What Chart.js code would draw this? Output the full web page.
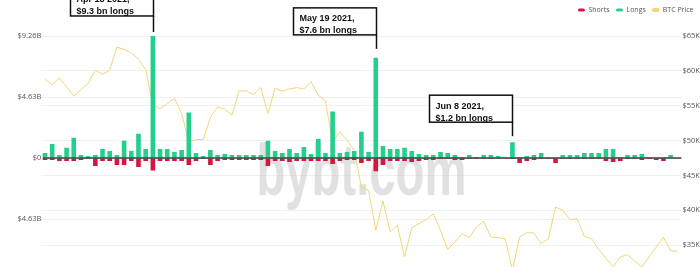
<!DOCTYPE html>
<html>
<head>
<meta charset="utf-8">
<script src="https://cdn.jsdelivr.net/npm/chart.js@4/dist/chart.umd.min.js"></script>
<style>
    html, body { margin: 0; padding: 0; background: #fff; width: 700px; height: 267px; overflow: hidden; }
    #wrap { position: relative; width: 700px; height: 300px; }
</style>
</head>
<body>
<div id="wrap"><canvas id="liqChart"></canvas></div>
<script>
// Tage (Apr 3 - Jun 30 2021)
const days = [
    'Apr 3', 'Apr 4', 'Apr 5', 'Apr 6', 'Apr 7', 'Apr 8', 'Apr 9', 'Apr 10', 'Apr 11', 'Apr 12',
    'Apr 13', 'Apr 14', 'Apr 15', 'Apr 16', 'Apr 17', 'Apr 18', 'Apr 19', 'Apr 20', 'Apr 21', 'Apr 22',
    'Apr 23', 'Apr 24', 'Apr 25', 'Apr 26', 'Apr 27', 'Apr 28', 'Apr 29', 'Apr 30', 'May 1', 'May 2',
    'May 3', 'May 4', 'May 5', 'May 6', 'May 7', 'May 8', 'May 9', 'May 10', 'May 11', 'May 12',
    'May 13', 'May 14', 'May 15', 'May 16', 'May 17', 'May 18', 'May 19', 'May 20', 'May 21', 'May 22',
    'May 23', 'May 24', 'May 25', 'May 26', 'May 27', 'May 28', 'May 29', 'May 30', 'May 31', 'Jun 1',
    'Jun 2', 'Jun 3', 'Jun 4', 'Jun 5', 'Jun 6', 'Jun 7', 'Jun 8', 'Jun 9', 'Jun 10', 'Jun 11',
    'Jun 12', 'Jun 13', 'Jun 14', 'Jun 15', 'Jun 16', 'Jun 17', 'Jun 18', 'Jun 19', 'Jun 20', 'Jun 21',
    'Jun 22', 'Jun 23', 'Jun 24', 'Jun 25', 'Jun 26', 'Jun 27', 'Jun 28', 'Jun 29', 'Jun 30'
];

// Liquidationen in Mrd. USD
const longs = [
    0.38, 1.07, 0.23, 0.77, 1.53, 0.23, 0.15, 0.23, 0.69, 0.54,
    0.23, 1.30, 0.54, 1.84, 0.69, 9.30, 0.69, 0.69, 0.46, 0.61,
    3.45, 0.38, 0.15, 0.61, 0.23, 0.31, 0.23, 0.23, 0.23, 0.23,
    0.23, 1.30, 0.54, 0.38, 0.69, 0.38, 0.84, 0.31, 1.45, 0.38,
    3.52, 0.38, 0.46, 0.54, 1.99, 0.46, 7.60, 0.92, 0.69, 0.69,
    0.77, 0.54, 0.31, 0.23, 0.23, 0.46, 0.38, 0.23, 0.08, 0.23,
    0.08, 0.23, 0.23, 0.15, 0.05, 1.20, 0.08, 0.15, 0.23, 0.38,
    0.02, 0.03, 0.23, 0.23, 0.23, 0.38, 0.38, 0.38, 0.69, 0.69,
    0.08, 0.23, 0.23, 0.31, 0.08, 0.03, 0.03, 0.23, 0.00
];
const shorts = [
    -0.15, -0.15, -0.23, -0.23, -0.23, -0.15, -0.08, -0.61, -0.23, -0.23,
    -0.54, -0.54, -0.23, -0.69, -0.23, -0.95, -0.23, -0.23, -0.23, -0.23,
    -0.54, -0.23, -0.08, -0.54, -0.23, -0.15, -0.15, -0.15, -0.15, -0.15,
    -0.15, -0.61, -0.23, -0.23, -0.31, -0.23, -0.23, -0.23, -0.23, -0.23,
    -0.46, -0.23, -0.15, -0.15, -0.38, -0.23, -1.00, -0.54, -0.23, -0.23,
    -0.23, -0.31, -0.23, -0.15, -0.15, -0.08, -0.08, -0.15, -0.15, -0.08,
    -0.08, -0.08, -0.08, -0.05, -0.05, -0.08, -0.38, -0.23, -0.15, -0.08,
    -0.08, -0.38, -0.08, -0.08, -0.08, -0.08, -0.08, -0.08, -0.23, -0.31,
    -0.23, -0.08, -0.08, -0.15, -0.08, -0.15, -0.23, -0.04, 0.00
];

// BTC-Kurs in Tsd. USD
const btcPrice = [
    58.8, 57.96, 59.0, 57.7, 56.4, 57.3, 58.2, 60.1, 59.5, 60.1, 63.4, 63.1, 62.6, 61.65, 60.2,
    55.1, 54.55, 55.3, 56.05, 53.9, 49.8, 50.15, 50.15, 53.3, 54.85, 54.5, 53.65, 57.15, 57.1, 56.6,
    57.6, 53.9, 57.5, 57.1, 57.4, 57.6, 57.4, 58.45, 56.5, 55.7, 49.8, 51.25, 50.05, 48.6,
    43.26, 42.87, 37.13, 41.34, 36.9, 37.84, 33.3, 37.5, 38.1, 38.66, 39.5, 37.13, 34.4, 35.45, 36.65,
    36.08, 37.6, 38.4, 36.17, 36.08, 35.93, 31.4, 36.17, 36.8, 36.74, 35.2, 35.93, 40.48, 40.0, 38.66,
    38.8, 36.26, 35.93, 34.4, 33.1, 31.9, 33.3, 33.65, 32.7, 31.9, 33.3, 34.72, 36.1, 34.18, 34.12
];

const leftTicks = [-9.26, -4.63, 0, 4.63, 9.26];
const rightTicks = [30, 35, 40, 45, 50, 55, 60, 65];

const notes = [
    { index: 15, lines: ['Apr 18 2021,', '$9.3 bn longs'], rise: 19.5, gap: 3.5 },
    { index: 46, lines: ['May 19 2021,', '$7.6 bn longs'], rise: 23, gap: 9 },
    { index: 65, lines: ['Jun 8 2021,', '$1.2 bn longs'], rise: 20, gap: 6 }
];

const tickFont = { family: '"Open Sans", sans-serif', size: 7.5 };

// Abstand unter der Legende
const legendGap = {
    id: 'legendGap',
    beforeInit(chart) {
        const fit = chart.legend.fit;
        chart.legend.fit = function() {
            fit.bind(chart.legend)();
            this.height += 12.5;
        };
    }
};

// Wasserzeichen
const watermark = {
    id: 'watermark',
    beforeDatasetsDraw(chart) {
        const { ctx, chartArea: a } = chart;
        ctx.save();
        ctx.font = 'bold 72px "Liberation Sans", Arial, sans-serif';
        ctx.fillStyle = 'rgba(200, 200, 200, 0.55)';
        ctx.textAlign = 'center';
        ctx.fillText('bybt.com', (a.left + a.right) / 2, (a.top + a.bottom) / 2 + 17, 210);
        ctx.restore();
    }
};

// Nulllinie über den Balken
const zeroLine = {
    id: 'zeroLine',
    afterDatasetsDraw(chart) {
        const { ctx, chartArea: a, scales: { y } } = chart;
        const y0 = y.getPixelForValue(0);
        ctx.save();
        ctx.strokeStyle = '#3a3a3a';
        ctx.lineWidth = 1.5;
        ctx.beginPath();
        ctx.moveTo(a.left + 1.5, y0);
        ctx.lineTo(a.right, y0);
        ctx.stroke();
        ctx.restore();
    }
};

// Beschriftungskästen
const callouts = {
    id: 'callouts',
    afterDraw(chart) {
        const { ctx } = chart;
        const bars = chart.getDatasetMeta(1).data;
        ctx.save();
        ctx.font = 'bold 9px "Liberation Sans", Arial, sans-serif';
        notes.forEach(n => {
            const bar = bars[n.index];
            const right = Math.round(bar.x) + 0.5;
            const bottom = bar.y - n.rise;
            const top = bottom - 27;
            const left = right - 83;
            ctx.fillStyle = '#fff';
            ctx.fillRect(left, top, 83, 27);
            ctx.strokeStyle = '#111';
            ctx.lineWidth = 1.5;
            ctx.strokeRect(left, top, 83, 27);
            ctx.beginPath();
            ctx.moveTo(right, bottom);
            ctx.lineTo(right, bar.y - n.gap);
            ctx.stroke();
            ctx.fillStyle = '#111';
            n.lines.forEach((t, i) => ctx.fillText(t, left + 6, top + 11 + i * 12));
        });
        ctx.restore();
    }
};

new Chart(document.getElementById('liqChart'), {
    type: 'bar',
    data: {
        labels: days,
        datasets: [{
            label: 'Shorts',
            data: shorts,
            backgroundColor: '#d6163f',
            yAxisID: 'y',
            barPercentage: 0.8,
            categoryPercentage: 0.8
        }, {
            label: 'Longs',
            data: longs,
            backgroundColor: '#23cf8c',
            yAxisID: 'y',
            barPercentage: 0.8,
            categoryPercentage: 0.8
        }, {
            type: 'line',
            label: 'BTC Price',
            data: btcPrice,
            borderColor: '#f3d577',
            backgroundColor: '#f3d577',
            borderWidth: 1,
            pointRadius: 0,
            tension: 0,
            yAxisID: 'y2'
        }]
    },
    options: {
        responsive: true,
        maintainAspectRatio: false,
        animation: false,
        layout: { padding: { top: 0, bottom: 20, left: 0, right: 0 } },
        plugins: {
            legend: {
                position: 'top',
                align: 'end',
                labels: {
                    boxWidth: 7,
                    boxHeight: 3,
                    useBorderRadius: true,
                    borderRadius: 1.5,
                    padding: 6.5,
                    color: '#555',
                    font: { family: '"Open Sans", sans-serif', size: 7 }
                }
            },
            tooltip: { enabled: false }
        },
        scales: {
            x: { display: false, stacked: true },
            y: {
                position: 'left',
                stacked: true,
                min: -9.26,
                max: 9.26,
                afterBuildTicks: s => { s.ticks = leftTicks.map(v => ({ value: v })); },
                afterFit: s => { s.width = 41.4; },
                border: { display: false },
                grid: { color: '#f0f0f0', drawTicks: false },
                ticks: {
                    padding: 0,
                    color: '#555',
                    font: tickFont,
                    callback: v => v === 0 ? '$0' : '$' + Math.abs(v).toFixed(2) + 'B'
                }
            },
            y2: {
                position: 'right',
                min: 30,
                max: 65,
                afterBuildTicks: s => { s.ticks = rightTicks.map(v => ({ value: v })); },
                afterFit: s => { s.width = 18.6; },
                border: { display: false },
                grid: { color: '#f0f0f0', drawTicks: false },
                ticks: {
                    padding: 1,
                    color: '#555',
                    font: tickFont,
                    callback: v => '$' + v + 'K'
                }
            }
        }
    },
    plugins: [legendGap, watermark, zeroLine, callouts]
});
</script>
</body>
</html>
